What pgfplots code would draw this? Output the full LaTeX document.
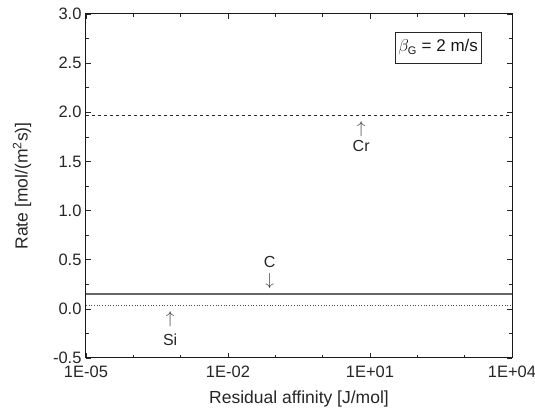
\documentclass[border=0pt]{standalone}
\usepackage{fontspec}
\setmainfont{Liberation Sans}
\usepackage{pgfplots}
\pgfplotsset{compat=1.18}
\begin{document}
\begin{tikzpicture}
\path[use as bounding box] (-86pt,-56pt) rectangle (449pt,358pt);
\begin{axis}[
  at={(0,0)}, anchor=south west,
  scale only axis, width=426pt, height=344pt,
  xmode=log, log basis x=10,
  xmin=1e-5, xmax=1e4, ymin=-0.5, ymax=3.0,
  xtick={1e-5,1e-2,1e1,1e4},
  xticklabels={1E-05,1E-02,1E+01,1E+04},
  minor xtick={1e-4,1e-3,1e-1,1,1e2,1e3},
  ytick={-0.5,0,0.5,1,1.5,2,2.5,3},
  yticklabels={-0.5,0.0,0.5,1.0,1.5,2.0,2.5,3.0},
  minor ytick={-0.25,0.25,0.75,1.25,1.75,2.25,2.75},
  tick align=inside,
  major tick length=5pt, minor tick length=3pt,
  tick style={black!85, line width=0.7pt},
  axis line style={black!90, line width=1pt},
  tick label style={font=\fontsize{16.5}{18}\selectfont, text=black!85},
  xticklabel style={yshift=-4pt},
  yticklabel style={xshift=-1pt},
  label style={font=\fontsize{17.5}{20}\selectfont, text=black!85},
  xlabel={Residual affinity [J/mol]},
  ylabel={Rate [mol/(m\textsuperscript{2}s)]},
  ylabel style={yshift=15pt},
  xlabel style={yshift=-7pt},
  /pgf/number format/assume math mode=true,
]
\addplot[black!85, dashed, line width=0.7pt] coordinates {(1e-5,1.97)(1e4,1.97)};
\addplot[black!60, line width=1.6pt] coordinates {(1e-5,0.15)(1e4,0.15)};
\addplot[black!70, dotted, line width=0.7pt] coordinates {(1e-5,0.04)(1e4,0.04)};
\node[font=\fontsize{16}{18}\selectfont, text=black!75] at (axis cs:6.5,1.83) {$\uparrow$};
\node[font=\fontsize{16}{18}\selectfont, text=black!85] at (axis cs:6.5,1.66) {Cr};
\node[font=\fontsize{16}{18}\selectfont, text=black!85] at (axis cs:0.076,0.48) {C};
\node[font=\fontsize{16}{18}\selectfont, text=black!75] at (axis cs:0.076,0.28) {$\downarrow$};
\node[font=\fontsize{16}{18}\selectfont, text=black!75] at (axis cs:6e-4,-0.11) {$\uparrow$};
\node[font=\fontsize{16}{18}\selectfont, text=black!85] at (axis cs:6e-4,-0.31) {Si};
\node[draw=black!85, line width=0.8pt, fill=white, font=\fontsize{17}{19}\selectfont, text=black!90,
  inner xsep=2pt, minimum height=31pt, minimum width=86pt]
  at (axis cs:275,2.66) {$\beta_{\mbox{\fontsize{11}{12}\selectfont G}}$ = 2 m/s};
\end{axis}
\end{tikzpicture}
\end{document}
